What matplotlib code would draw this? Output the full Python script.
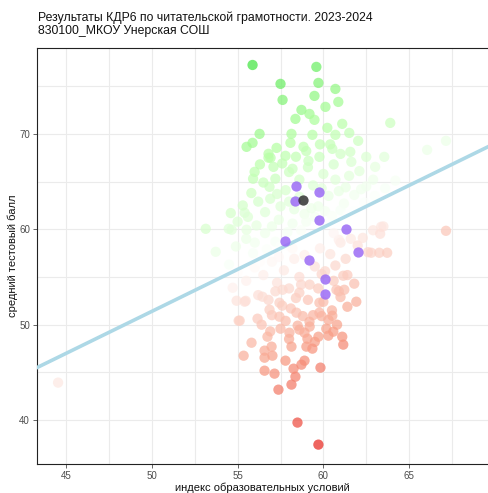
import matplotlib.pyplot as plt
import numpy as np
from matplotlib.colors import LinearSegmentedColormap, Normalize

plt.rcParams['font.family'] = ['Liberation Sans', 'DejaVu Sans']

title = "Результаты КДР6 по читательской грамотности. 2023-2024\n830100_МКОУ Унерская СОШ"
xlabel = "индекс образовательных условий"
ylabel = "средний тестовый балл"

# all schools (index, score)
pts_x = [55.87, 59.59, 57.5, 59.71, 60.70, 57.62, 59.48, 60.87, 58.72, 59.19, 58.37, 59.48,
         60.12, 61.10, 63.90, 56.28, 55.52, 55.87, 58.14, 58.08, 57.27, 56.80, 56.92, 57.79,
         57.09, 55.99, 58.84, 59.36, 60.23, 60.70, 61.51, 62.03, 60.52, 61.57, 61.63, 62.50,
         63.55, 63.02, 58.20, 59.13, 59.77, 56.86, 55.41, 54.65, 66.05, 67.15,
         53.14, 54.48, 53.72, 55.52,
         55.3, 55.8, 56.2, 56.5, 56.9, 57.2, 57.5, 57.8, 58.0, 58.3, 58.6, 58.9, 59.1, 59.4,
         59.7, 60.0, 60.3, 60.6, 60.9, 61.2, 61.5, 61.8, 62.1, 62.5, 62.9, 55.0, 55.6, 56.1,
         56.6, 57.0, 57.4, 57.9, 58.2, 58.7, 59.0, 59.5, 60.1, 60.5, 61.0, 61.4, 56.3, 56.8,
         57.6, 58.4, 59.0, 59.8, 60.4, 61.0, 57.3, 58.0, 58.6, 59.3, 59.9, 60.7, 61.3, 62.2,
         54.6, 55.9, 56.0, 55.5, 54.9, 56.6, 57.2, 58.0, 61.8, 62.4, 63.0, 63.6, 64.2, 60.2,
         56.0, 56.5, 57.0, 57.3, 57.7, 58.0, 58.3, 58.6, 58.9, 59.2, 59.5, 59.8, 60.1, 60.4,
         60.7, 61.0, 61.3, 61.6, 62.0, 56.2, 56.8, 57.2, 57.6, 58.1, 58.4, 58.8, 59.1, 59.4,
         59.7, 60.0, 60.3, 60.6, 61.0, 61.4, 61.8, 55.5, 55.0, 54.5, 55.9, 56.7, 57.5, 58.2,
         57.0, 57.8, 58.5, 59.2, 59.9, 60.5, 56.4, 56.9, 58.0, 59.5, 60.8, 62.3, 62.9, 63.5,
         62.6, 58.7, 59.9, 57.4, 56.3, 60.9,
         59.71, 58.49, 57.38, 58.14, 58.37, 57.15, 56.57, 58.26, 59.83, 58.72, 58.90, 57.79,
         55.35, 56.57, 57.03, 56.57, 56.98, 55.81, 58.14, 59.36, 59.01, 59.07, 61.16, 61.10,
         60.29, 59.71, 60.17, 60.58, 58.90, 58.02, 57.50, 56.74, 55.12, 56.16, 60.52, 61.40,
         61.92, 54.94, 55.41, 61.16, 62.79, 63.26, 63.72, 67.15, 63.37, 63.31, 58.6, 59.19,
         59.77, 57.44, 58.43, 56.86, 56.45, 57.44, 59.77, 60.76, 61.22, 57.62, 58.6, 44.53,
         54.71, 55.47, 55.06, 60.9, 60.6]
pts_y = [77.22, 77.02, 75.24, 75.34, 74.71, 73.56, 73.98, 73.35, 72.51, 72.09, 71.57, 71.47,
         72.83, 71.05, 71.15, 70.0, 68.64, 69.06, 70.0, 69.06, 68.53, 67.91, 67.49, 67.70,
         66.54, 66.02, 68.64, 69.90, 70.63, 69.90, 70.10, 69.27, 68.43, 68.12, 67.07, 67.59,
         67.59, 66.54, 66.34, 67.17, 67.59, 64.45, 61.73, 59.95, 68.32, 69.27,
         60.05, 60.05, 57.64, 59.95,
         62.5, 63.8, 62.9, 64.9, 63.2, 65.3, 62.4, 64.1, 66.0, 62.1, 65.2, 61.6, 66.5, 64.6,
         62.4, 65.8, 63.5, 66.8, 64.0, 62.7, 65.6, 63.6, 66.1, 64.5, 65.2, 60.8, 61.3, 60.4,
         61.8, 60.3, 61.0, 59.7, 60.6, 59.9, 60.8, 61.3, 61.9, 61.4, 62.0, 61.5, 66.8, 67.5,
         66.9, 67.6, 68.2, 68.9, 68.9, 67.9, 63.7, 62.9, 63.4, 62.2, 64.3, 65.2, 64.4, 64.2,
         61.7, 65.3, 58.6, 59.0, 58.2, 59.6, 58.7, 58.3, 61.9, 62.8, 63.5, 64.3, 65.1, 60.6,
         56.0, 55.2, 56.6, 54.4, 55.7, 53.8, 56.9, 55.0, 57.3, 54.2, 56.1, 58.0, 55.6, 57.4,
         56.2, 58.6, 56.9, 59.0, 58.3, 53.1, 52.6, 53.5, 52.0, 51.7, 52.8, 50.9, 52.6, 51.0,
         53.8, 52.4, 50.5, 54.6, 52.9, 55.2, 54.3, 54.6, 55.5, 56.3, 57.5, 57.9, 58.2, 58.0,
         51.0, 50.4, 49.9, 49.8, 50.9, 51.5, 50.0, 49.3, 48.5, 48.2, 50.0, 59.1, 59.9, 60.3,
         57.6, 54.2, 55.3, 57.1, 56.6, 53.5,
         37.43, 39.74, 43.19, 43.72, 44.55, 44.87, 45.18, 45.39, 45.50, 45.81, 46.23, 46.23,
         46.75, 46.54, 46.75, 47.28, 47.70, 48.11, 47.70, 47.49, 47.70, 48.53, 47.91, 48.74,
         48.85, 48.74, 49.58, 49.27, 49.16, 49.16, 49.58, 48.74, 50.42, 50.63, 50.94, 51.88,
         52.41, 52.51, 52.41, 55.13, 57.54, 57.54, 57.54, 59.84, 60.26, 59.53, 49.48, 50.31,
         51.26, 50.84, 51.26, 51.57, 52.93, 52.30, 52.30, 53.66, 53.66, 53.66, 53.35, 43.93,
         53.87, 52.5, 50.42, 58.9, 59.6]

# schools of the same district (purple) and the selected school (dark)
grp_x = [58.43, 59.77, 58.37, 59.77, 61.34, 57.79, 62.03, 59.19, 60.12, 60.12]
grp_y = [64.55, 63.93, 62.98, 61.0, 60.05, 58.8, 57.64, 56.81, 54.82, 53.25]
school_x = [58.84]
school_y = [63.09]

# regression line
fit_intercept = 7.4
fit_slope = 0.88

x = np.array(pts_x)
y = np.array(pts_y)
resid = y - (fit_intercept + fit_slope * x)

cmap = LinearSegmentedColormap.from_list(
    "rwg", ["#e82a22", "#f8a088", "#ffffff", "#b2ffa0", "#30e030"])
lim = np.abs(resid).max()
norm = Normalize(-lim, lim)

fig = plt.figure(figsize=(4.88, 4.93), dpi=100)
ax = fig.add_axes([37 / 488, 1 - 464 / 493, 1 - 37 / 488, (464 - 48) / 493])

ax.scatter(x, y, c=resid, cmap=cmap, norm=norm, s=55, alpha=0.72, linewidths=0, zorder=2)
ax.axline((0, fit_intercept), slope=fit_slope, color="#add8e6", lw=2.6, zorder=3)
ax.scatter(grp_x, grp_y, color="#9b6bf5", s=55, alpha=0.85, linewidths=0, zorder=4)
ax.scatter(school_x, school_y, color="#333333", s=55, alpha=0.85, linewidths=0, zorder=5)

ax.set_xlim(43.3, 69.6)
ax.set_ylim(35.4, 79.0)
ax.set_xticks([45, 50, 55, 60, 65])
ax.set_yticks([40, 50, 60, 70])
ax.set_xticks(np.arange(47.5, 70, 5), minor=True)
ax.set_yticks(np.arange(45, 80, 10), minor=True)
ax.grid(True, which="both", color="#ebebeb", lw=0.8, zorder=0)
ax.set_axisbelow(True)
ax.tick_params(which="major", labelsize=7, colors="#4d4d4d", length=3, width=0.6, pad=2)
ax.tick_params(which="minor", length=0)
for s in ["left", "bottom", "top"]:
    ax.spines[s].set_color("#222222")
    ax.spines[s].set_linewidth(0.8)
ax.spines["right"].set_visible(False)

ax.set_xlabel(xlabel, fontsize=8, color="#111111", labelpad=1)
ax.set_ylabel(ylabel, fontsize=8, color="#111111", labelpad=1)
fig.text(38 / 488, 1 - 11 / 493, title, fontsize=8.8, va="top", ha="left", color="#111111",
         linespacing=1.15)

fig.savefig("out.png", dpi=100)
